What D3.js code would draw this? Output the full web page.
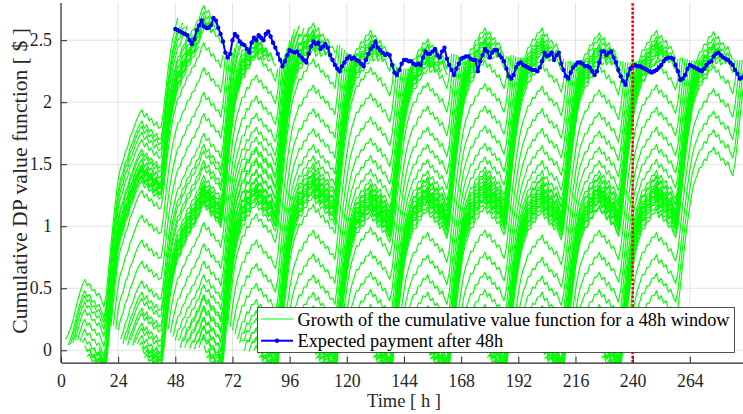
<!DOCTYPE html>
<html>
<head>
<meta charset="utf-8">
<script src="https://cdn.jsdelivr.net/npm/d3@7"></script>
<style>
  html, body { margin: 0; padding: 0; background: #fff; }
  svg { display: block; font-family: "Liberation Serif", "Times New Roman", serif; }
</style>
</head>
<body>
<svg id="chart" width="743" height="414"></svg>
<script>
// ---- data -------------------------------------------------------------
const hourTicks = [0, 24, 48, 72, 96, 120, 144, 168, 192, 216, 240, 264];
const valueTicks = [0, 0.5, 1, 1.5, 2, 2.5];
const horizonHours = 288;
const windowHours = 48;
const firstWindow = 1;
const lastWindow = 240;          // last window start, marked by the dotted line
const legendLabels = [
  "Growth of the cumulative value function for a 48h window",
  "Expected payment after 48h"
];

// value gained in each hour [$]; element 0 is hour 0, then one row per day
const hourlyGain = [0,
  0, .09, .04, .05, .06, .08, .08, .07, .06, .04, -.05, .02, -.06, .01, -.05, .02, -.06, -.05, .10, .20, .20, .20, .17, .16,
  .09, .05, .08, .04, .08, .04, .06, .05, .04, .03, -.06, .03, -.06, .02, -.06, .03, -.05, .01, .12, .18, .17, .14, .11, .08,
  .08, .02, .07, .02, .07, .01, .06, .01, .06, .02, .07, .04, -.06, .02, -.07, .02, -.06, .01, -.06, .10, .19, .21, .19, .16,
  .13, .09, .06, .08, .00, .08, -.01, .07, .00, .04, -.06, .02, -.07, .02, -.06, .02, -.06, -.04, .10, .20, .21, .19, .17, .14,
  .11, .08, .05, .07, -.01, .07, .00, .06, .00, .04, -.07, .03, -.07, .02, -.06, .02, -.07, .01, -.05, .16, .19, .19, .17, .14,
  .12, .09, .06, .07, .00, .06, -.01, .06, .00, .04, -.06, .02, -.07, .03, -.07, .02, -.06, -.04, .09, .17, .19, .18, .16, .14,
  .11, .08, .06, .06, .00, .07, .00, .06, -.01, .04, -.07, .02, -.06, .02, -.07, .03, -.06, -.05, .10, .18, .19, .18, .16, .14,
  .12, .08, .05, .07, .00, .07, .00, .06, .00, .04, -.06, .03, -.07, .02, -.06, .02, -.07, -.04, .09, .17, .20, .18, .15, .13,
  .11, .08, .05, .07, .01, .06, -.01, .06, .00, .04, -.07, .02, -.07, .02, -.06, .03, -.06, -.05, .09, .16, .19, .18, .16, .14,
  .12, .09, .05, .06, .00, .07, .00, .06, .00, .04, -.06, .02, -.07, .03, -.07, .02, -.06, -.05, .10, .17, .19, .18, .15, .14,
  .11, .08, .06, .07, .00, .06, .00, .06, .00, .04, -.07, .03, -.06, .02, -.07, .02, -.06, -.04, .09, .17, .19, .17, .16, .13,
  .12, .08, .05, .06, .01, .06, -.01, .07, .00, .04, -.06, .02, -.07, .02, -.06, .03, -.07, -.04, .10, .17, .19, .18, .16, .14
];

// expected payment after 48h [$], hourly from hour 48 to hour 288
const paymentStartHour = 48;
const expectedPayment = [
  2.59, 2.58, 2.57, 2.56, 2.55, 2.54, 2.50, 2.47, 2.51, 2.58, 2.62, 2.66,
  2.61, 2.60, 2.60, 2.62, 2.68, 2.66, 2.60, 2.55, 2.49, 2.40, 2.36, 2.39,
  2.50, 2.55, 2.53, 2.49, 2.47, 2.46, 2.43, 2.40, 2.48, 2.52, 2.50, 2.54,
  2.52, 2.50, 2.55, 2.57, 2.53, 2.48, 2.44, 2.39, 2.34, 2.29, 2.33, 2.38,
  2.42, 2.41, 2.40, 2.41, 2.38, 2.36, 2.34, 2.32, 2.39, 2.45, 2.49, 2.47,
  2.48, 2.43, 2.45, 2.47, 2.44, 2.38, 2.34, 2.30, 2.27, 2.25, 2.29, 2.32,
  2.35, 2.37, 2.35, 2.36, 2.34, 2.33, 2.31, 2.29, 2.34, 2.39, 2.43, 2.45,
  2.49, 2.44, 2.42, 2.40, 2.38, 2.39, 2.38, 2.30, 2.24, 2.22, 2.26, 2.31,
  2.34, 2.34, 2.33, 2.33, 2.31, 2.30, 2.31, 2.30, 2.36, 2.41, 2.39, 2.39,
  2.41, 2.43, 2.38, 2.36, 2.41, 2.44, 2.35, 2.30, 2.26, 2.22, 2.27, 2.31,
  2.35, 2.36, 2.37, 2.37, 2.35, 2.34, 2.34, 2.25, 2.33, 2.38, 2.43, 2.41,
  2.36, 2.40, 2.42, 2.42, 2.38, 2.36, 2.33, 2.27, 2.21, 2.19, 2.22, 2.28,
  2.31, 2.32, 2.30, 2.29, 2.28, 2.27, 2.26, 2.26, 2.25, 2.28, 2.33, 2.40,
  2.37, 2.38, 2.40, 2.34, 2.38, 2.40, 2.31, 2.26, 2.21, 2.19, 2.24, 2.28,
  2.30, 2.32, 2.32, 2.31, 2.29, 2.29, 2.28, 2.25, 2.22, 2.25, 2.32, 2.41,
  2.41, 2.38, 2.40, 2.41, 2.36, 2.32, 2.26, 2.21, 2.17, 2.14, 2.22, 2.27,
  2.29, 2.30, 2.29, 2.29, 2.28, 2.27, 2.26, 2.25, 2.24, 2.25, 2.26, 2.28,
  2.30, 2.33, 2.35, 2.36, 2.36, 2.35, 2.30, 2.25, 2.18, 2.19, 2.22, 2.27,
  2.30, 2.29, 2.28, 2.27, 2.26, 2.25, 2.27, 2.30, 2.32, 2.33, 2.37, 2.39,
  2.40, 2.38, 2.36, 2.35, 2.34, 2.32, 2.30, 2.26, 2.23, 2.19, 2.20, 2.22,
  2.21
];

// ---- layout ----------------------------------------------------------
const plotLeft = 61, plotRight = 747, plotTop = 3, plotBottom = 362.7;
const axisColor = "#262626";
const tickFontSize = 17.8;

const svg = d3.select("#chart");
const x = d3.scaleLinear().domain([0, horizonHours]).range([plotLeft, plotRight]);
const y = d3.scaleLinear().domain([-0.1, 2.8]).range([plotBottom, plotTop]);

// scale a text's font so that it spans the given width
function fitWidth(sel, width) {
  const size = +sel.attr("font-size");
  const len = sel.node().getComputedTextLength();
  if (len > 0) sel.attr("font-size", size * width / len);
  return sel;
}

svg.append("defs").append("clipPath").attr("id", "plot-area")
  .append("rect")
  .attr("x", plotLeft).attr("y", plotTop)
  .attr("width", plotRight - plotLeft).attr("height", plotBottom - plotTop);

// grid
const grid = svg.append("g").attr("stroke", "#e2e2e2").attr("stroke-width", 1);
grid.selectAll(".grid-x").data(hourTicks.filter(d => d > 0)).join("line")
  .attr("class", "grid-x")
  .attr("x1", d => x(d)).attr("x2", d => x(d))
  .attr("y1", plotTop).attr("y2", plotBottom);
grid.selectAll(".grid-y").data(valueTicks).join("line")
  .attr("class", "grid-y")
  .attr("x1", plotLeft).attr("x2", plotRight)
  .attr("y1", d => y(d)).attr("y2", d => y(d));

// cumulative value over the whole horizon
const cumulative = [];
hourlyGain.reduce((acc, g, i) => (cumulative[i] = acc + g), 0);

// one curve per 48h window: value collected since the window start
const windows = d3.range(firstWindow, lastWindow + 1).map(s =>
  d3.range(s + 1, s + windowHours + 1).map(t => [t, cumulative[t] - cumulative[s]])
);

const line = d3.line().x(d => x(d[0])).y(d => y(d[1]));
const plot = svg.append("g").attr("clip-path", "url(#plot-area)");

plot.append("g").selectAll("path").data(windows).join("path")
  .attr("d", line)
  .attr("fill", "none")
  .attr("stroke", "#00ff00")
  .attr("stroke-width", 1.15)
  .attr("stroke-linejoin", "round");

const payment = expectedPayment.map((v, i) => [paymentStartHour + i, v]);
plot.append("path").datum(payment)
  .attr("d", line)
  .attr("fill", "none")
  .attr("stroke", "#0000ff")
  .attr("stroke-width", 2)
  .attr("stroke-linejoin", "round");
plot.append("g").selectAll("circle").data(payment).join("circle")
  .attr("cx", d => x(d[0])).attr("cy", d => y(d[1]))
  .attr("r", 2.2)
  .attr("fill", "#0000ff");

// last window start
plot.append("line")
  .attr("x1", x(lastWindow)).attr("x2", x(lastWindow))
  .attr("y1", plotBottom).attr("y2", plotTop)
  .attr("stroke", "#ff0000")
  .attr("stroke-width", 2.6)
  .attr("stroke-dasharray", "2.6 1.7");

// axes
const xAxis = d3.axisBottom(x).tickValues(hourTicks).tickFormat(d => d)
  .tickSize(-6).tickSizeOuter(0).tickPadding(12);
const yAxis = d3.axisLeft(y).tickValues(valueTicks).tickFormat(d => d)
  .tickSize(-6).tickSizeOuter(0).tickPadding(9);

const gx = svg.append("g").attr("transform", `translate(0,${plotBottom})`).call(xAxis);
const gy = svg.append("g").attr("transform", `translate(${plotLeft},0)`).call(yAxis);
[gx, gy].forEach(g => {
  g.attr("font-family", null).attr("font-size", tickFontSize).attr("color", axisColor);
  g.select(".domain").attr("stroke-width", 1.2);
  g.selectAll(".tick line").attr("stroke-width", 1);
  g.selectAll(".tick text").attr("fill", axisColor);
});
gy.select(".domain").attr("d", `M0,${plotBottom}V${plotTop}`);

fitWidth(svg.append("text")
  .attr("x", (plotLeft + plotRight) / 2).attr("y", 407)
  .attr("text-anchor", "middle")
  .attr("font-size", 19.5).attr("fill", axisColor)
  .text("Time [ h ]"), 74);

fitWidth(svg.append("text")
  .attr("transform", `translate(26.5,${(plotTop + plotBottom) / 2 - 2}) rotate(-90)`)
  .attr("text-anchor", "middle")
  .attr("font-size", 19.5).attr("fill", axisColor)
  .text("Cumulative DP value function [ $ ]"), 306);

// legend
const legend = svg.append("g");
legend.append("rect")
  .attr("x", 257.5).attr("y", 307.5).attr("width", 477).attr("height", 45)
  .attr("fill", "#fff").attr("stroke", axisColor).attr("stroke-width", 0.8);
const rows = [319, 340.7];
legend.append("line")
  .attr("x1", 261).attr("x2", 293).attr("y1", rows[0]).attr("y2", rows[0])
  .attr("stroke", "#00ff00").attr("stroke-width", 1);
legend.append("line")
  .attr("x1", 261).attr("x2", 293).attr("y1", rows[1]).attr("y2", rows[1])
  .attr("stroke", "#0000ff").attr("stroke-width", 2);
legend.append("circle")
  .attr("cx", 277).attr("cy", rows[1]).attr("r", 2.2).attr("fill", "#0000ff");
const legendText = legend.selectAll("text").data(legendLabels).join("text")
  .attr("x", 297.5).attr("y", (d, i) => rows[i] + 6.5)
  .attr("font-size", tickFontSize).attr("fill", "#000")
  .text(d => d);
fitWidth(legendText.filter((d, i) => i === 0), 432);
legendText.filter((d, i) => i === 1)
  .attr("font-size", legendText.filter((d, i) => i === 0).attr("font-size"));
</script>
</body>
</html>
